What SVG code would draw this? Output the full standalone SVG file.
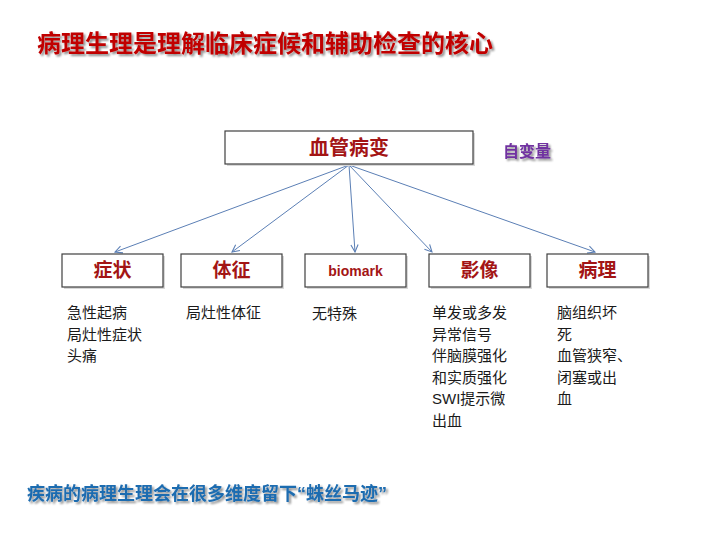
<svg xmlns="http://www.w3.org/2000/svg" width="720" height="540" viewBox="0 0 720 540">
<defs>
<style>
.box{fill:#fff;stroke:#404040;stroke-width:1.2}
.shadow{fill:#d8d8d8}
.lbl{font-family:"Liberation Sans","Noto Sans CJK SC",sans-serif;font-weight:bold;fill:#a31515;text-anchor:middle}
.body{font-family:"Liberation Sans","Noto Sans CJK SC",sans-serif;font-size:15px;fill:#1a1a1a}
.conn{stroke:#5b7fb5;stroke-width:1;fill:none;marker-end:url(#arr)}
</style>
<marker id="arr" viewBox="0 0 10 10" refX="9" refY="5" markerWidth="9" markerHeight="9" orient="auto" markerUnits="userSpaceOnUse">
<path d="M1,1 L9,5 L1,9" fill="none" stroke="#5b7fb5" stroke-width="1.2"/>
</marker>
<filter id="ts" x="-5%" y="-20%" width="110%" height="150%">
<feGaussianBlur in="SourceAlpha" stdDeviation="1.2"/>
<feOffset dx="1.5" dy="2" result="b"/>
<feComponentTransfer><feFuncA type="linear" slope="0.45"/></feComponentTransfer>
<feMerge><feMergeNode/><feMergeNode in="SourceGraphic"/></feMerge>
</filter>
</defs>
<rect width="720" height="540" fill="#fff"/>
<text x="37" y="52" font-family="'Liberation Sans','Noto Sans CJK SC',sans-serif" font-size="24" font-weight="bold" fill="#c00000" filter="url(#ts)">病理生理是理解临床症候和辅助检查的核心</text>

<g id="connectors">
<line class="conn" x1="349" y1="165" x2="115" y2="252"/>
<line class="conn" x1="349" y1="165" x2="232" y2="252"/>
<line class="conn" x1="349" y1="165" x2="355" y2="252"/>
<line class="conn" x1="349" y1="165" x2="432" y2="252"/>
<line class="conn" x1="349" y1="165" x2="595" y2="252"/>
</g>

<g id="node-root">
<rect class="shadow" x="227" y="133" width="248" height="33"/>
<rect class="box" x="225" y="131" width="248" height="33"/>
<text class="lbl" x="349" y="155" font-size="20">血管病变</text>
</g>
<g id="label-zibianliang">
<text x="503" y="157" font-family="'Liberation Sans','Noto Sans CJK SC',sans-serif" font-size="16" font-weight="bold" fill="#7030a0" filter="url(#ts)">自变量</text>
</g>

<g id="node-zhengzhuang">
<rect class="shadow" x="64" y="256" width="101" height="33"/>
<rect class="box" x="62" y="254" width="101" height="33"/>
<text class="lbl" x="112.5" y="277" font-size="19">症状</text>
</g>
<g id="node-tizheng">
<rect class="shadow" x="183" y="256" width="101" height="33"/>
<rect class="box" x="181" y="254" width="101" height="33"/>
<text class="lbl" x="231.5" y="277" font-size="19">体征</text>
</g>
<g id="node-biomark">
<rect class="shadow" x="307" y="256" width="101" height="33"/>
<rect class="box" x="305" y="254" width="101" height="33"/>
<text class="lbl" x="355.5" y="276" font-size="14">biomark</text>
</g>
<g id="node-yingxiang">
<rect class="shadow" x="431" y="256" width="101" height="33"/>
<rect class="box" x="429" y="254" width="101" height="33"/>
<text class="lbl" x="479.5" y="277" font-size="19">影像</text>
</g>
<g id="node-bingli">
<rect class="shadow" x="549" y="256" width="101" height="33"/>
<rect class="box" x="547" y="254" width="101" height="33"/>
<text class="lbl" x="597.5" y="277" font-size="19">病理</text>
</g>

<g id="text-zhengzhuang">
<text class="body" x="67" y="318">急性起病</text>
<text class="body" x="67" y="339.5">局灶性症状</text>
<text class="body" x="67" y="361">头痛</text>
</g>
<g id="text-tizheng">
<text class="body" x="186" y="318">局灶性体征</text>
</g>
<g id="text-biomark">
<text class="body" x="312" y="319">无特殊</text>
</g>
<g id="text-yingxiang">
<text class="body" x="432" y="318">单发或多发</text>
<text class="body" x="432" y="339.5">异常信号</text>
<text class="body" x="432" y="361">伴脑膜强化</text>
<text class="body" x="432" y="382.5">和实质强化</text>
<text class="body" x="432" y="404">SWI提示微</text>
<text class="body" x="432" y="425.5">出血</text>
</g>
<g id="text-bingli">
<text class="body" x="557" y="318">脑组织坏</text>
<text class="body" x="557" y="339.5">死</text>
<text class="body" x="557" y="361">血管狭窄、</text>
<text class="body" x="557" y="382.5">闭塞或出</text>
<text class="body" x="557" y="404">血</text>
</g>

<text x="27" y="500" font-family="'Liberation Sans','Noto Sans CJK SC',sans-serif" font-size="18" font-weight="bold" fill="#1f6cb0" filter="url(#ts)">疾病的病理生理会在很多维度留下“蛛丝马迹”</text>
</svg>
